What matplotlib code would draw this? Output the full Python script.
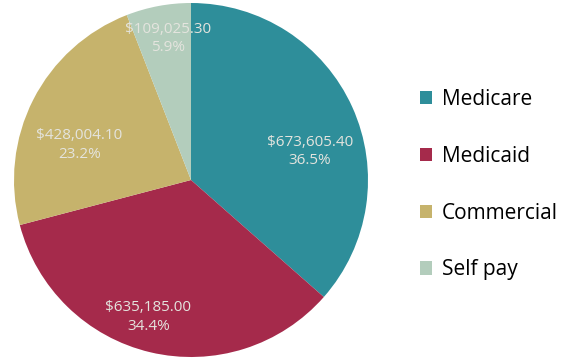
import numpy as np
import matplotlib.pyplot as plt
from matplotlib.patches import Patch

payers = ['Medicare', 'Medicaid', 'Commercial', 'Self pay']
amounts = [673605.40, 635185.00, 428004.10, 109025.30]
colors = ['#2e8e9a', '#a52a4b', '#c6b36c', '#b3cdbc']

# where each value label sits: (angle in degrees, radius as fraction of pie)
label_pos = [(13.6, 0.69), (-107.3, 0.81), (162.6, 0.66), (99.2, 0.81)]

fig = plt.figure(figsize=(5.69, 3.62), dpi=100)
ax = fig.add_axes([14 / 569, 5 / 362, 354 / 569, 354 / 362])

total = sum(amounts)
ax.pie(amounts, colors=colors, startangle=90, counterclock=False,
       radius=1.0, wedgeprops=dict(linewidth=0))
ax.set_xlim(-1, 1)
ax.set_ylim(-1, 1)
ax.set_aspect('equal')
ax.axis('off')

for amt, (ang, r) in zip(amounts, label_pos):
    t = np.deg2rad(ang)
    ax.text(r * np.cos(t), r * np.sin(t),
            '${:,.2f}\n{:.1f}%'.format(amt, amt / total * 100),
            ha='center', va='center', color='#e4e4de', fontsize=11,
            family='Open Sans', linespacing=1.3)

handles = [Patch(facecolor=c, edgecolor='none') for c in colors]
fig.legend(handles, payers, loc='center left', bbox_to_anchor=(401 / 569, 0.49),
           frameon=False, handlelength=0.6, handleheight=0.6,
           handletextpad=0.45, labelspacing=1.72,
           prop={'family': 'Open Sans', 'size': 15})

fig.savefig('out.png', dpi=100)
